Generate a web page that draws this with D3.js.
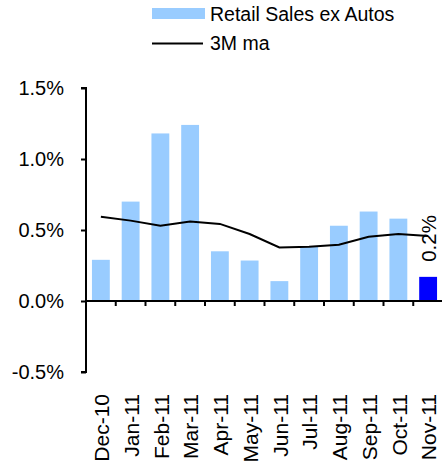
<!DOCTYPE html>
<html>
<head>
<meta charset="utf-8">
<script src="https://cdn.jsdelivr.net/npm/d3@7"></script>
<style>
  body { margin: 0; background: #fff; }
  svg { display: block; font-family: "Liberation Sans", Arial, sans-serif; }
</style>
</head>
<body>
<svg id="chart" width="442" height="465"></svg>
<script>
// data
var months = ["Dec-10", "Jan-11", "Feb-11", "Mar-11", "Apr-11", "May-11", "Jun-11", "Jul-11", "Aug-11", "Sep-11", "Oct-11", "Nov-11"];
var retailSales = [0.29, 0.70, 1.18, 1.24, 0.35, 0.285, 0.14, 0.38, 0.53, 0.63, 0.58, 0.17];
var movingAvg = [0.594, 0.566, 0.53, 0.559, 0.543, 0.472, 0.377, 0.382, 0.396, 0.453, 0.472, 0.458];
var yTicks = [-0.5, 0, 0.5, 1.0, 1.5];
var lastLabel = "0.2%";

var svg = d3.select("#chart");

var x = d3.scaleBand().domain(months).range([86, 443]).paddingInner(0.4).paddingOuter(0.2);
var y = d3.scaleLinear().domain([-0.5, 1.5]).range([372, 88]);

// bars
svg.append("g").selectAll("rect")
    .data(retailSales)
    .enter().append("rect")
    .attr("x", function(d, i) { return x(months[i]); })
    .attr("width", x.bandwidth())
    .attr("y", function(d) { return y(d); })
    .attr("height", function(d) { return y(0) - y(d); })
    .attr("fill", function(d, i) { return i == months.length - 1 ? "#0000ff" : "#99ccff"; });

// 3M moving average
var line = d3.line()
    .x(function(d, i) { return x(months[i]) + x.bandwidth() / 2; })
    .y(function(d) { return y(d); });

svg.append("path")
    .datum(movingAvg)
    .attr("d", line)
    .attr("fill", "none")
    .attr("stroke", "#000")
    .attr("stroke-width", 2);

// y axis
var yAxis = svg.append("g")
    .attr("transform", "translate(86,0)")
    .call(d3.axisLeft(y).tickValues(yTicks).tickSize(5).tickPadding(17)
        .tickFormat(function(d) { return d.toFixed(1) + "%"; }));
yAxis.select(".domain").attr("stroke-width", 2).attr("d", "M-5," + y(1.5) + "H0V" + y(-0.5) + "H-5");
yAxis.selectAll(".tick line").attr("stroke-width", 2);
yAxis.selectAll("text").style("font-size", "20px").attr("fill", "#000");

// x axis line at zero with ticks between categories
var gap = x.step() - x.bandwidth();
svg.append("line")
    .attr("x1", x.range()[0]).attr("x2", x.range()[1])
    .attr("y1", y(0)).attr("y2", y(0))
    .attr("stroke", "#000").attr("stroke-width", 2);

svg.append("g").selectAll("line")
    .data(months.slice(1))
    .enter().append("line")
    .attr("x1", function(d) { return x(d) - gap / 2; })
    .attr("x2", function(d) { return x(d) - gap / 2; })
    .attr("y1", y(0)).attr("y2", y(0) + 5)
    .attr("stroke", "#000").attr("stroke-width", 2);

// category labels
svg.append("g").selectAll("text")
    .data(months)
    .enter().append("text")
    .attr("transform", function(d) { return "translate(" + (x(d) + x.bandwidth() / 2 + 1) + ",394)rotate(-90)"; })
    .attr("text-anchor", "end")
    .attr("dy", "0.35em")
    .style("font-size", "21px")
    .text(function(d) { return d; });

// last value label
var lastIdx = months.length - 1;
svg.append("text")
    .attr("transform", "translate(" + (x(months[lastIdx]) + x.bandwidth() / 2 + 1) + "," + (y(retailSales[lastIdx]) - 15) + ")rotate(-90)")
    .attr("dy", "0.35em")
    .style("font-size", "20.5px")
    .text(lastLabel);

// legend
var legend = svg.append("g").style("font-size", "19.5px");
legend.append("rect")
    .attr("x", 152).attr("y", 8).attr("width", 53).attr("height", 11)
    .attr("fill", "#99ccff");
legend.append("text")
    .attr("x", 210).attr("y", 21)
    .text("Retail Sales ex Autos");
legend.append("line")
    .attr("x1", 152).attr("x2", 203).attr("y1", 43.5).attr("y2", 43.5)
    .attr("stroke", "#000").attr("stroke-width", 2);
legend.append("text")
    .attr("x", 210).attr("y", 50)
    .text("3M ma");
</script>
</body>
</html>
